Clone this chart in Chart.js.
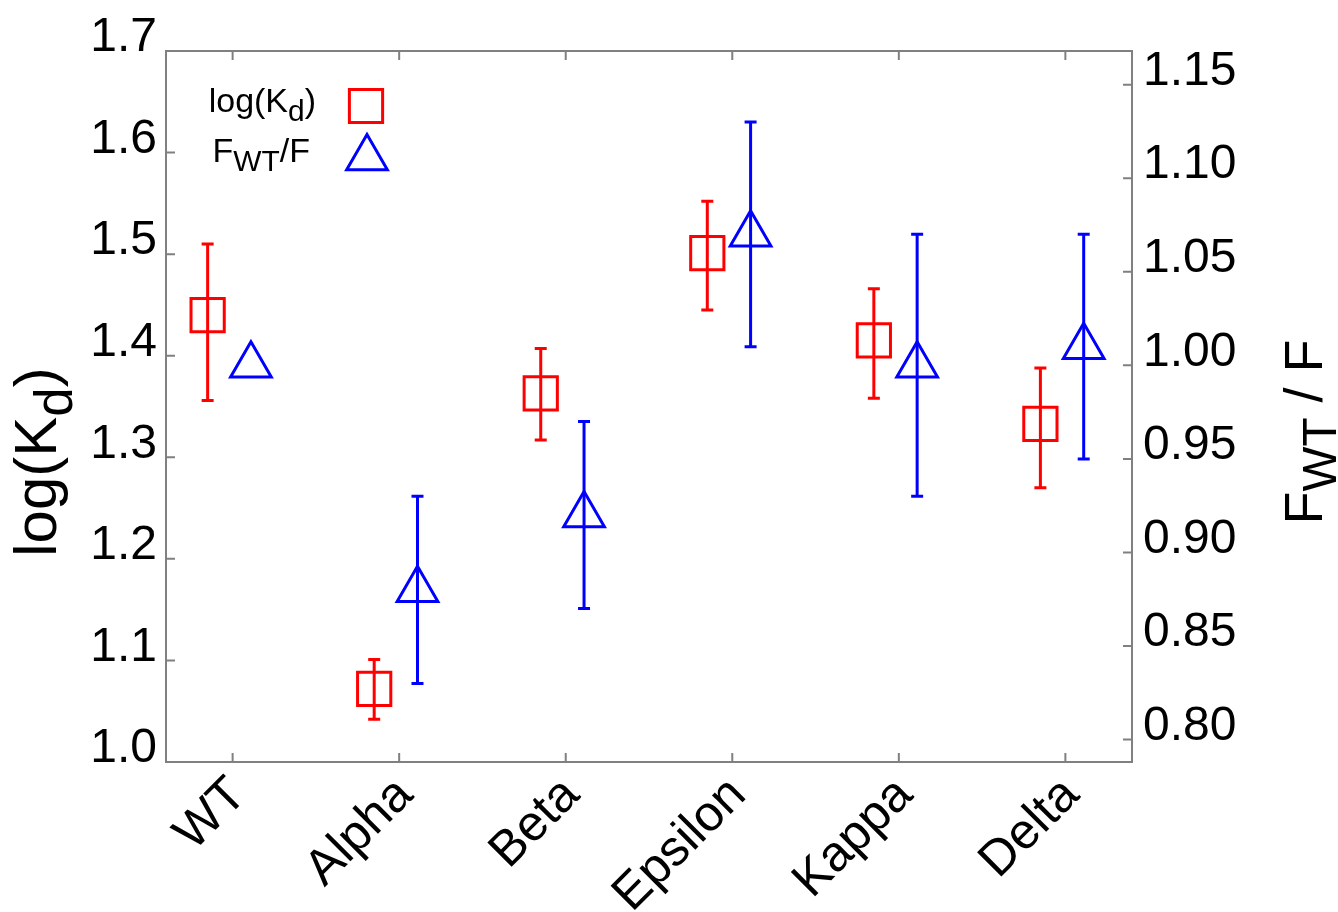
<!DOCTYPE html>
<html>
<head>
<meta charset="utf-8">
<title>log(Kd) and FWT/F per variant</title>
<script src="https://cdn.jsdelivr.net/npm/chart.js@4.4.0/dist/chart.umd.min.js"></script>
<style>
  html, body { margin: 0; padding: 0; background: #fff; }
</style>
</head>
<body>
<canvas id="chart" width="1338" height="912"></canvas>
<script>
const categories = ["WT", "Alpha", "Beta", "Epsilon", "Kappa", "Delta"];

// log(Kd) - left axis
const logKd = [1.44, 1.072, 1.363, 1.501, 1.415, 1.333];
const logKdLow = [1.356, 1.042, 1.317, 1.445, 1.358, 1.270];
const logKdHigh = [1.510, 1.101, 1.407, 1.552, 1.466, 1.388];

// FWT / F - right axis (no error bar for WT)
const fRatio = [1.000, 0.880, 0.920, 1.070, 1.000, 1.010];
const fRatioLow = [null, 0.830, 0.870, 1.010, 0.930, 0.950];
const fRatioHigh = [null, 0.930, 0.970, 1.130, 1.070, 1.070];

const leftTicks = [1.0, 1.1, 1.2, 1.3, 1.4, 1.5, 1.6, 1.7];
const rightTicks = [0.80, 0.85, 0.90, 0.95, 1.00, 1.05, 1.10, 1.15];

const FONT = '"Liberation Sans", Arial, sans-serif';
const RED = "#ff0000";
const BLUE = "#0000ff";
const FRAME = "#808080";

// draw text with subscript pieces: parts = [[text, isSub], ...]
const drawRich = (ctx, parts, x, y, size, align) => {
  const subSize = size * 0.88;
  const widths = parts.map(([t, sub]) => {
    ctx.font = `${sub ? subSize : size}px ${FONT}`;
    return ctx.measureText(t).width;
  });
  const total = widths.reduce((a, b) => a + b, 0);
  let cx = align === "right" ? x - total : align === "center" ? x - total / 2 : x;
  ctx.textAlign = "left";
  ctx.textBaseline = "alphabetic";
  parts.forEach(([t, sub], i) => {
    ctx.font = `${sub ? subSize : size}px ${FONT}`;
    ctx.fillText(t, cx, sub ? y + size * 0.26 : y);
    cx += widths[i];
  });
};

// error bars
const errorBars = {
  id: "errorBars",
  afterDatasetsDraw(chart) {
    const ctx = chart.ctx;
    const sets = [
      { idx: 0, low: logKdLow, high: logKdHigh, axis: "yL" },
      { idx: 1, low: fRatioLow, high: fRatioHigh, axis: "yR" },
    ];
    ctx.save();
    ctx.lineWidth = 3;
    sets.forEach((s) => {
      const meta = chart.getDatasetMeta(s.idx);
      const scale = chart.scales[s.axis];
      ctx.strokeStyle = chart.data.datasets[s.idx].borderColor;
      meta.data.forEach((pt, i) => {
        if (s.low[i] == null) return;
        const yLo = scale.getPixelForValue(s.low[i]);
        const yHi = scale.getPixelForValue(s.high[i]);
        ctx.beginPath();
        ctx.moveTo(pt.x, yLo);
        ctx.lineTo(pt.x, yHi);
        ctx.moveTo(pt.x - 6, yLo);
        ctx.lineTo(pt.x + 6, yLo);
        ctx.moveTo(pt.x - 6, yHi);
        ctx.lineTo(pt.x + 6, yHi);
        ctx.stroke();
      });
    });
    ctx.restore();
  },
};

// frame, inward ticks, axis titles and legend
const decorations = {
  id: "decorations",
  afterDraw(chart) {
    const ctx = chart.ctx;
    const a = chart.chartArea;
    const { x, yL, yR } = chart.scales;
    ctx.save();
    ctx.strokeStyle = FRAME;
    ctx.lineWidth = 2;
    ctx.strokeRect(a.left, a.top, a.right - a.left, a.bottom - a.top);
    ctx.beginPath();
    x.ticks.forEach((t) => {
      const px = x.getPixelForValue(t.value);
      ctx.moveTo(px, a.bottom);
      ctx.lineTo(px, a.bottom - 9);
      ctx.moveTo(px, a.top);
      ctx.lineTo(px, a.top + 9);
    });
    yL.ticks.forEach((t) => {
      const py = yL.getPixelForValue(t.value);
      ctx.moveTo(a.left, py);
      ctx.lineTo(a.left + 9, py);
    });
    yR.ticks.forEach((t) => {
      const py = yR.getPixelForValue(t.value);
      ctx.moveTo(a.right, py);
      ctx.lineTo(a.right - 9, py);
    });
    ctx.stroke();

    ctx.fillStyle = "#000";
    // left title
    ctx.save();
    ctx.translate(56, 462);
    ctx.rotate(-Math.PI / 2);
    drawRich(ctx, [["log(K", false], ["d", true], [")", false]], 0, 0, 60, "center");
    ctx.restore();
    // right title
    ctx.save();
    ctx.translate(1322, 432);
    ctx.rotate(-Math.PI / 2);
    drawRich(ctx, [["F", false], ["WT", true], [" / F", false]], 0, 0, 54, "center");
    ctx.restore();

    // legend
    drawRich(ctx, [["log(K", false], ["d", true], [")", false]], 316, 112, 34, "right");
    drawRich(ctx, [["F", false], ["WT", true], ["/F", false]], 310, 162, 34, "right");
    ctx.lineWidth = 3;
    ctx.fillStyle = "rgba(0,0,0,0)";
    ctx.strokeStyle = RED;
    Chart.helpers.drawPoint(ctx, { pointStyle: "rect", radius: 23.5, rotation: 0, borderWidth: 3 }, 366, 106);
    ctx.strokeStyle = BLUE;
    Chart.helpers.drawPoint(ctx, { pointStyle: "triangle", radius: 23.5, rotation: 0, borderWidth: 3 }, 367, 158);
    ctx.restore();
  },
};

const tickFont = { family: FONT, size: 48 };

new Chart(document.getElementById("chart"), {
  type: "scatter",
  data: {
    datasets: [
      {
        label: "log(Kd)",
        data: categories.map((c, i) => ({ x: i - 0.15, y: logKd[i] })),
        yAxisID: "yL",
        pointStyle: "rect",
        pointRadius: 23.5,
        borderColor: RED,
        backgroundColor: "rgba(0,0,0,0)",
        borderWidth: 3,
      },
      {
        label: "FWT/F",
        data: categories.map((c, i) => ({ x: i + 0.11, y: fRatio[i] })),
        yAxisID: "yR",
        pointStyle: "triangle",
        pointRadius: 23.5,
        borderColor: BLUE,
        backgroundColor: "rgba(0,0,0,0)",
        borderWidth: 3,
      },
    ],
  },
  options: {
    responsive: false,
    animation: false,
    layout: { padding: { top: 51, left: 0, right: 0, bottom: 0 } },
    plugins: { legend: { display: false }, tooltip: { enabled: false } },
    scales: {
      x: {
        type: "linear",
        min: -0.4,
        max: 5.4,
        grid: { display: false, drawTicks: false },
        border: { display: false },
        afterBuildTicks: (scale) => {
          scale.ticks = categories.map((c, i) => ({ value: i }));
        },
        afterFit: (scale) => { scale.height = 150; },
        ticks: {
          autoSkip: false,
          minRotation: 45,
          maxRotation: 45,
          padding: 4,
          labelOffset: 6,
          color: "#000",
          font: { family: FONT, size: 50 },
          callback: (v) => categories[v],
        },
      },
      yL: {
        position: "left",
        min: 1.0,
        max: 1.7,
        grid: { display: false, drawTicks: false },
        border: { display: false },
        afterBuildTicks: (scale) => {
          scale.ticks = leftTicks.map((v) => ({ value: v }));
        },
        afterFit: (scale) => { scale.width = 166; },
        ticks: {
          padding: 9,
          labelOffset: -13,
          color: "#000",
          font: tickFont,
          callback: (v) => v.toFixed(1),
        },
      },
      yR: {
        position: "right",
        min: 0.788,
        max: 1.168,
        grid: { display: false, drawTicks: false },
        border: { display: false },
        afterBuildTicks: (scale) => {
          scale.ticks = rightTicks.map((v) => ({ value: v }));
        },
        afterFit: (scale) => { scale.width = 206; },
        ticks: {
          padding: 11,
          labelOffset: -13,
          color: "#000",
          font: tickFont,
          callback: (v) => v.toFixed(2),
        },
      },
    },
  },
  plugins: [errorBars, decorations],
});
</script>
</body>
</html>
